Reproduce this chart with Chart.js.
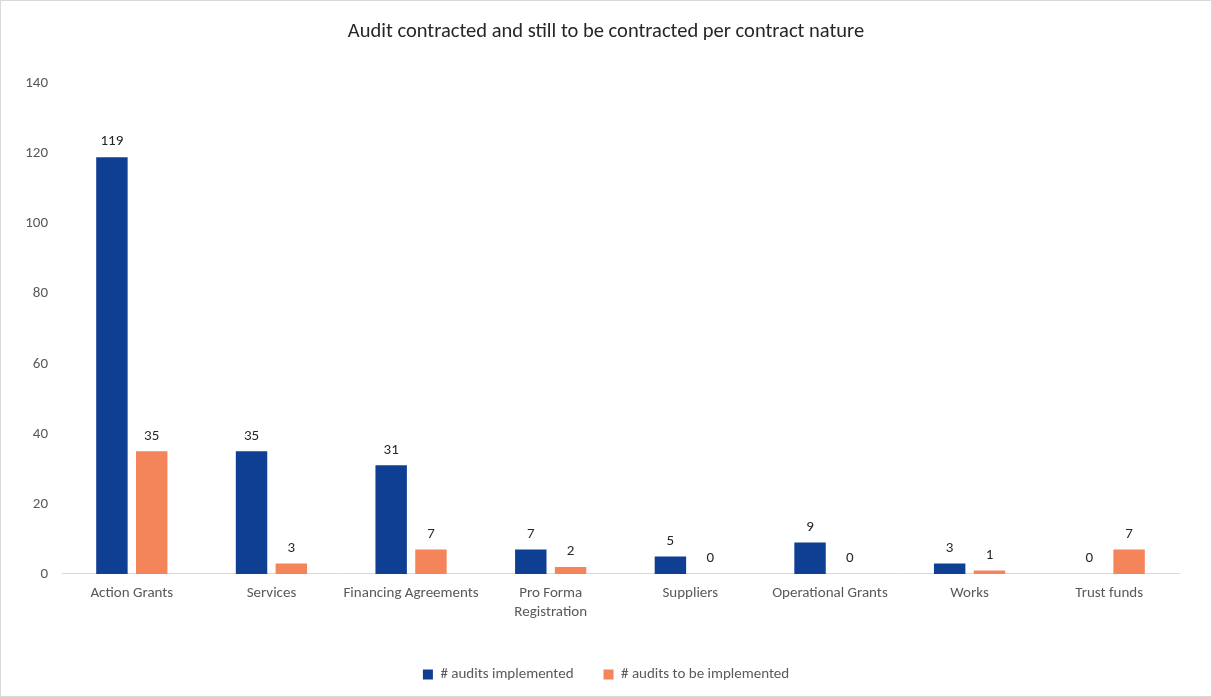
<!DOCTYPE html>
<html>
<head>
<meta charset="utf-8">
<script src="https://cdn.jsdelivr.net/npm/chart.js@4/dist/chart.umd.min.js"></script>
<style>
  html, body { margin: 0; padding: 0; background: #fff; }
  #wrap { width: 1210px; height: 695px; border: 1px solid #d9d9d9; }
</style>
</head>
<body>
<div id="wrap"><canvas id="auditChart"></canvas></div>
<script>
var categories = ['Action Grants', 'Services', 'Financing Agreements', ['Pro Forma', 'Registration'], 'Suppliers', 'Operational Grants', 'Works', 'Trust funds'];
var implemented = [119, 35, 31, 7, 5, 9, 3, 0];
var toBeImplemented = [35, 3, 7, 2, 0, 0, 1, 7];
var yTicks = [0, 20, 40, 60, 80, 100, 120, 140];

var fontFamily = 'Calibri, Carlito, Lato, "Open Sans", sans-serif';

// writes the value above each bar
var valueLabels = {
    id: 'valueLabels',
    afterDatasetsDraw: function(chart) {
        var ctx = chart.ctx;
        ctx.save();
        ctx.font = '15px ' + fontFamily;
        ctx.fillStyle = '#262626';
        ctx.textAlign = 'center';
        ctx.textBaseline = 'bottom';
        chart.data.datasets.forEach(function(ds, i) {
            var meta = chart.getDatasetMeta(i);
            meta.data.forEach(function(bar, k) {
                ctx.fillText(ds.data[k], bar.x, bar.y - 8);
            });
        });
        ctx.restore();
    }
};

window.onload = function() {
    var ctx = document.getElementById('auditChart').getContext('2d');
    new Chart(ctx, {
        type: 'bar',
        data: {
            labels: categories,
            datasets: [{
                label: '# audits implemented',
                data: implemented,
                backgroundColor: '#0f3f92'
            }, {
                label: '# audits to be implemented',
                data: toBeImplemented,
                backgroundColor: '#f4845a'
            }]
        },
        options: {
            responsive: true,
            maintainAspectRatio: false,
            animation: false,
            categoryPercentage: 0.57,
            barPercentage: 0.79,
            layout: { padding: { left: 19, right: 19, top: 0, bottom: 4 } },
            plugins: {
                title: {
                    display: true,
                    text: 'Audit contracted and still to be contracted per contract nature',
                    color: '#262626',
                    font: { family: fontFamily, size: 20.5, weight: 'normal' },
                    padding: { top: 19, bottom: 39 }
                },
                legend: {
                    position: 'bottom',
                    labels: {
                        color: '#595959',
                        font: { family: fontFamily, size: 15 },
                        boxWidth: 10,
                        boxHeight: 10,
                        padding: 30
                    }
                },
                tooltip: { enabled: false }
            },
            scales: {
                x: {
                    grid: { display: false },
                    border: { display: true, color: '#d9d9d9', width: 1 },
                    afterFit: function(scale) { scale.height += 13; },
                    ticks: {
                        color: '#595959',
                        font: { family: fontFamily, size: 15, lineHeight: 1.27 },
                        maxRotation: 0,
                        autoSkip: false,
                        padding: 2
                    }
                },
                y: {
                    min: 0,
                    max: 140,
                    grid: { display: false, drawTicks: false },
                    border: { display: false },
                    afterFit: function(scale) { scale.width = 42; },
                    afterBuildTicks: function(axis) {
                        axis.ticks = yTicks.map(function(v) { return { value: v }; });
                    },
                    ticks: {
                        color: '#595959',
                        font: { family: fontFamily, size: 15 },
                        padding: 14
                    }
                },
                // empty right margin so plot sits where the labels need it
                yRight: {
                    position: 'right',
                    grid: { display: false, drawTicks: false },
                    border: { display: false },
                    ticks: { display: false },
                    afterFit: function(scale) { scale.width = 13; }
                }
            }
        },
        plugins: [valueLabels]
    });
};
</script>
</body>
</html>
